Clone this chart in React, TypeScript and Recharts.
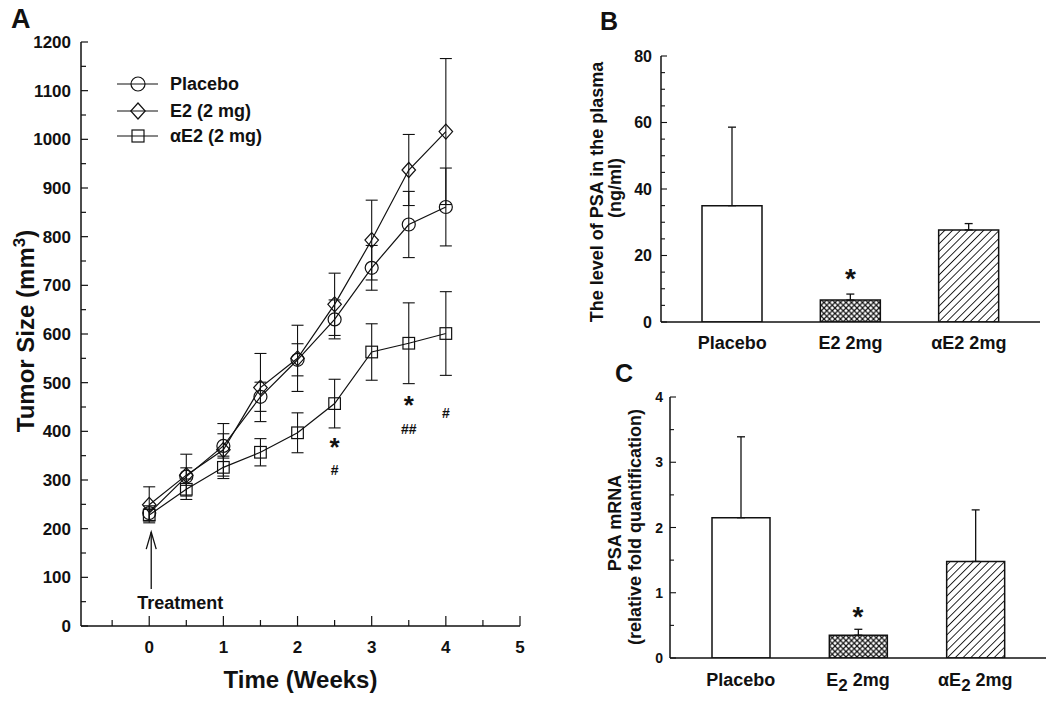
import React from 'react';
import {
  ComposedChart,
  Line,
  XAxis,
  YAxis,
  ErrorBar,
  ReferenceDot,
  Legend,
  BarChart,
  Bar,
  Cell,
  Label,
} from 'recharts';

const FONT = '"Liberation Sans", Arial, Helvetica, sans-serif';
const INK = '#111';

// ---------- Panel A data ----------
const weeks = [0, 0.5, 1, 1.5, 2, 2.5, 3, 3.5, 4];
const placebo = [232, 307, 370, 471, 547, 630, 736, 825, 861];
const placeboErr = [15, 18, 25, 30, 33, 40, 46, 68, 80];
const e2 = [249, 310, 362, 490, 550, 661, 793, 937, 1016];
const e2Err = [37, 43, 54, 70, 68, 64, 82, 73, 150];
const ae2 = [228, 281, 326, 357, 397, 457, 563, 581, 601];
const ae2Err = [12, 21, 23, 28, 41, 50, 58, 83, 86];

const yTicksA = [0, 50, 100, 150, 200, 250, 300, 350, 400, 450, 500, 550, 600, 650, 700, 750, 800, 850, 900, 950, 1000, 1050, 1100, 1150, 1200];
const xTicksA = [-0.5, 0, 0.5, 1, 1.5, 2, 2.5, 3, 3.5, 4, 4.5, 5];

// significance marks: "*" above, "#" below
const starX = [2.5, 3.5];
const starY = [380, 466];
const hashX = [2.5, 3.5, 4];
const hashY = [321, 405, 437];
const hashText = ['#', '##', '#'];

const legendOrder = ['placebo', 'e2', 'ae2'];

// ---------- Panel B data ----------
const groups = ['Placebo', 'E2 2mg', 'αE2 2mg'];
const plasmaPSA = [35, 6.6, 27.7];
const plasmaPSAErr = [23.6, 1.8, 1.9];
const yTicksB = [0, 5, 10, 15, 20, 25, 30, 35, 40, 45, 50, 55, 60, 65, 70, 75, 80];

// ---------- Panel C data ----------
const mRNA = [2.15, 0.35, 1.48];
const mRNAErr = [1.24, 0.09, 0.79];
const yTicksC = [0, 0.5, 1, 1.5, 2, 2.5, 3, 3.5, 4];

const dataA = weeks.map((w, i) => ({
  week: w,
  placebo: placebo[i],
  placeboErr: placeboErr[i],
  e2: e2[i],
  e2Err: e2Err[i],
  ae2: ae2[i],
  ae2Err: ae2Err[i],
}));

const dataB = groups.map((g, i) => ({ group: g, value: plasmaPSA[i], err: [0, plasmaPSAErr[i]] }));
const dataC = groups.map((g, i) => ({ group: g, value: mRNA[i], err: [0, mRNAErr[i]] }));

const barFillsB = ['#fff', 'url(#crossB)', 'url(#diagB)'];
const barFillsC = ['#fff', 'url(#crossC)', 'url(#diagC)'];

const textStyle = { fontFamily: FONT, fontWeight: 700, fill: INK } as const;

// ---------- markers ----------
const CircleMark = ({ cx, cy, r = 6.5 }: any) => (
  <circle cx={cx} cy={cy} r={r} fill="none" stroke={INK} strokeWidth={1.2} />
);
const DiamondMark = ({ cx, cy, s = 7.5 }: any) => (
  <path
    d={`M${cx},${cy - s} L${cx + s * 0.9},${cy} L${cx},${cy + s} L${cx - s * 0.9},${cy} Z`}
    fill="none"
    stroke={INK}
    strokeWidth={1.2}
  />
);
const SquareMark = ({ cx, cy, s = 5.8 }: any) => (
  <rect x={cx - s} y={cy - s} width={2 * s} height={2 * s} fill="none" stroke={INK} strokeWidth={1.2} />
);

const dotCircle = (p: any) => (p.cx == null ? <g key={p.index} /> : <CircleMark key={p.index} cx={p.cx} cy={p.cy} />);
const dotDiamond = (p: any) => (p.cx == null ? <g key={p.index} /> : <DiamondMark key={p.index} cx={p.cx} cy={p.cy} />);
const dotSquare = (p: any) => (p.cx == null ? <g key={p.index} /> : <SquareMark key={p.index} cx={p.cx} cy={p.cy} />);

// ---------- ticks ----------
const LeftTickA = (props: any) => {
  const { x, y, payload } = props;
  const v = payload.value;
  const major = v % 100 === 0;
  return (
    <g>
      <line x1={x} x2={x + (major ? 7 : 5)} y1={y} y2={y} stroke={INK} strokeWidth={1.2} />
      {major && (
        <text x={x - 10} y={y} dy="0.36em" textAnchor="end" fontSize={17} {...textStyle}>
          {v}
        </text>
      )}
    </g>
  );
};
const RightTickA = (props: any) => {
  const { x, y, payload } = props;
  const major = payload.value % 100 === 0;
  return <line x1={x} x2={x - (major ? 7 : 5)} y1={y} y2={y} stroke={INK} strokeWidth={1.2} />;
};
const BottomTickA = (props: any) => {
  const { x, y, payload } = props;
  const v = payload.value;
  const major = Number.isInteger(v);
  return (
    <g>
      <line x1={x} x2={x} y1={y} y2={y - (major ? 10 : 6)} stroke={INK} strokeWidth={1.2} />
      {major && (
        <text x={x} y={y + 21} dy="0.36em" textAnchor="middle" fontSize={17} {...textStyle}>
          {v}
        </text>
      )}
    </g>
  );
};

const makeLeftBarTick = (majorStep: number, fontSize: number, gap: number) => (props: any) => {
  const { x, y, payload } = props;
  const v = payload.value;
  const major = Math.abs(v / majorStep - Math.round(v / majorStep)) < 1e-6;
  return (
    <g>
      <line x1={x} x2={x + (major ? 6 : 4)} y1={y} y2={y} stroke={INK} strokeWidth={1.1} />
      {major && (
        <text x={x - gap} y={y} dy="0.36em" textAnchor="end" fontSize={fontSize} {...textStyle}>
          {v}
        </text>
      )}
    </g>
  );
};
const LeftTickB = makeLeftBarTick(20, 16, 9);
const LeftTickC = makeLeftBarTick(1, 14, 7);

const BottomTickB = (props: any) => {
  const { x, y, payload } = props;
  return (
    <text x={x} y={y + 21} dy="0.36em" textAnchor="middle" fontSize={18} {...textStyle}>
      {payload.value}
    </text>
  );
};
const BottomTickC = (props: any) => {
  const { x, y, payload } = props;
  const v: string = payload.value;
  const idx = v.indexOf('E2');
  if (idx < 0) {
    return (
      <text x={x} y={y + 22} dy="0.36em" textAnchor="middle" fontSize={18} {...textStyle}>
        {v}
      </text>
    );
  }
  return (
    <text x={x} y={y + 22} dy="0.36em" textAnchor="middle" fontSize={18} {...textStyle}>
      <tspan>{v.slice(0, idx + 1)}</tspan>
      <tspan dy={5} fontSize={17}>2</tspan>
      <tspan dy={-5}>{v.slice(idx + 2)}</tspan>
    </text>
  );
};

// ---------- legend ----------
const legendMarks: Record<string, (cx: number, cy: number) => React.ReactNode> = {
  placebo: (cx, cy) => <CircleMark cx={cx} cy={cy} r={7} />,
  e2: (cx, cy) => <DiamondMark cx={cx} cy={cy} s={8} />,
  ae2: (cx, cy) => <SquareMark cx={cx} cy={cy} s={6} />,
};
const renderLegendA = (props: any) => {
  const payload = (props.payload || [])
    .filter((p: any) => legendMarks[p.dataKey])
    .sort((a: any, b: any) => legendOrder.indexOf(a.dataKey) - legendOrder.indexOf(b.dataKey));
  return (
    <svg width={220} height={80} style={{ overflow: 'visible' }}>
      {payload.map((p: any, i: number) => {
        const cy = [14, 41, 66][i] ?? 14 + i * 26;
        return (
          <g key={p.dataKey}>
            <line x1={7} x2={48} y1={cy} y2={cy} stroke={INK} strokeWidth={1.2} />
            {legendMarks[p.dataKey](28, cy)}
            <text x={60} y={cy} dy="0.36em" fontSize={18} {...textStyle}>
              {p.value}
            </text>
          </g>
        );
      })}
    </svg>
  );
};

// ---------- annotation shapes ----------
const STAR_FS = 26;
const HASH_FS = 14;
const starShape = (p: any) => (
  <text x={p.cx} y={p.cy} dy={STAR_FS * 0.58} textAnchor="middle" fontSize={STAR_FS} {...textStyle}>
    *
  </text>
);
const hashShape = (t: string) => (p: any) => (
  <text x={p.cx} y={p.cy} dy={HASH_FS * 0.36} textAnchor="middle" fontSize={HASH_FS} {...textStyle}>
    {t}
  </text>
);
const bigStarShape = (p: any) => (
  <text x={p.cx} y={p.cy} dy={28 * 0.58} textAnchor="middle" fontSize={28} {...textStyle}>
    *
  </text>
);

const treatmentShape = (p: any) => {
  const { cx, cy } = p;
  return (
    <g>
      <line x1={cx + 2} x2={cx + 2} y1={cy} y2={cy + 57} stroke={INK} strokeWidth={1.3} />
      <path d={`M${cx - 3},${cy + 17} L${cx + 2},${cy} L${cx + 7},${cy + 17}`} fill="none" stroke={INK} strokeWidth={1.3} />
      <text x={cx - 12} y={cy + 70} dy="0.36em" fontSize={18} {...textStyle}>
        Treatment
      </text>
    </g>
  );
};

// ---------- Panel A ----------
const PanelA = () => (
  <ComposedChart width={560} height={702} data={dataA} margin={{ top: 42, right: 40, bottom: 46, left: 11 }}>
    <XAxis
      dataKey="week"
      type="number"
      domain={[-0.92, 5]}
      allowDataOverflow
      ticks={xTicksA}
      interval={0}
      height={30}
      tickSize={0}
      tickMargin={0}
      tickLine={false}
      axisLine={{ stroke: INK, strokeWidth: 1.5 }}
      tick={BottomTickA}
    >
      <Label
        content={(p: any) => {
          const vb = p.viewBox || { x: 81, width: 439 };
          return (
            <text x={vb.x + vb.width / 2} y={679} dy="0.36em" textAnchor="middle" fontSize={24} {...textStyle}>
              Time (Weeks)
            </text>
          );
        }}
      />
    </XAxis>
    <XAxis
      xAxisId="t"
      orientation="top"
      type="number"
      domain={[-0.92, 5]}
      allowDataOverflow
      height={0}
      tick={false}
      tickLine={false}
      axisLine={{ stroke: INK, strokeWidth: 1.5 }}
    />
    <YAxis
      type="number"
      domain={[0, 1200]}
      allowDataOverflow
      ticks={yTicksA}
      interval={0}
      width={70}
      tickSize={0}
      tickMargin={0}
      tickLine={false}
      axisLine={{ stroke: INK, strokeWidth: 1.5 }}
      tick={LeftTickA}
    >
      <Label
        content={() => (
          <g>
            <text x={11} y={28} fontSize={27} {...textStyle}>
              A
            </text>
            <text
              transform="translate(25,331) rotate(-90)"
              textAnchor="middle"
              dy="0.36em"
              fontSize={24}
              {...textStyle}
            >
              Tumor Size (mm
              <tspan dy={-9} fontSize={17}>
                3
              </tspan>
              <tspan dy={9}>)</tspan>
            </text>
          </g>
        )}
      />
    </YAxis>
    <YAxis
      yAxisId="r"
      orientation="right"
      type="number"
      domain={[0, 1200]}
      allowDataOverflow
      ticks={yTicksA}
      interval={0}
      width={0}
      tickSize={0}
      tickMargin={0}
      tickLine={false}
      axisLine={{ stroke: INK, strokeWidth: 1.5 }}
      tick={RightTickA}
    />
    <Legend
      layout="vertical"
      align="center"
      verticalAlign="middle"
      wrapperStyle={{ left: 110, top: 70, width: 220, height: 80 }}
      content={renderLegendA}
    />
    <Line dataKey="placebo" name="Placebo" stroke={INK} strokeWidth={1.2} dot={dotCircle} activeDot={false} isAnimationActive={false}>
      <ErrorBar dataKey="placeboErr" direction="y" width={6} stroke={INK} strokeWidth={1.1} />
    </Line>
    <Line dataKey="e2" name="E2 (2 mg)" stroke={INK} strokeWidth={1.2} dot={dotDiamond} activeDot={false} isAnimationActive={false}>
      <ErrorBar dataKey="e2Err" direction="y" width={6} stroke={INK} strokeWidth={1.1} />
    </Line>
    <Line dataKey="ae2" name="αE2 (2 mg)" stroke={INK} strokeWidth={1.2} dot={dotSquare} activeDot={false} isAnimationActive={false}>
      <ErrorBar dataKey="ae2Err" direction="y" width={6} stroke={INK} strokeWidth={1.1} />
    </Line>
    {starX.map((sx, i) => (
      <ReferenceDot key={`st${i}`} x={sx} y={starY[i]} r={0} ifOverflow="visible" shape={starShape} />
    ))}
    {hashX.map((hx, i) => (
      <ReferenceDot key={`hs${i}`} x={hx} y={hashY[i]} r={0} ifOverflow="visible" shape={hashShape(hashText[i])} />
    ))}
    <ReferenceDot x={0} y={193} r={0} ifOverflow="visible" shape={treatmentShape} />
  </ComposedChart>
);

// ---------- patterns ----------
const Patterns = ({ suffix }: { suffix: string }) => (
  <defs>
    <pattern id={`cross${suffix}`} width={5.5} height={5.5} patternUnits="userSpaceOnUse">
      <rect width={5.5} height={5.5} fill="#fff" />
      <path d="M0,0 L5.5,5.5 M5.5,0 L0,5.5" stroke={INK} strokeWidth={1.2} />
    </pattern>
    <pattern id={`diag${suffix}`} width={5.5} height={5.5} patternUnits="userSpaceOnUse" patternTransform="rotate(45)">
      <rect width={5.5} height={5.5} fill="#fff" />
      <line x1={0} y1={0} x2={0} y2={5.5} stroke={INK} strokeWidth={1.8} />
    </pattern>
  </defs>
);

// ---------- Panel B ----------
const PanelB = () => (
  <BarChart width={490} height={360} data={dataB} margin={{ top: 56, right: 10, bottom: 8, left: 41 }}>
    <Patterns suffix="B" />
    <XAxis
      dataKey="group"
      padding={{ left: 12, right: 12 }}
      height={30}
      tickSize={0}
      tickMargin={0}
      tickLine={false}
      interval={0}
      axisLine={{ stroke: INK, strokeWidth: 1.5 }}
      tick={BottomTickB}
    />
    <XAxis xAxisId="t" orientation="top" dataKey="group" height={0} tick={false} tickLine={false} axisLine={{ stroke: INK, strokeWidth: 1.5 }} />
    <YAxis
      type="number"
      domain={[0, 80]}
      allowDataOverflow
      ticks={yTicksB}
      interval={0}
      width={60}
      tickSize={0}
      tickMargin={0}
      tickLine={false}
      axisLine={{ stroke: INK, strokeWidth: 1.5 }}
      tick={LeftTickB}
    >
      <Label
        content={() => (
          <g>
            <text x={40} y={30} fontSize={25} {...textStyle}>
              B
            </text>
            <text transform="translate(37,192) rotate(-90)" textAnchor="middle" dy="0.36em" fontSize={18} {...textStyle}>
              The level of PSA in the plasma
            </text>
            <text transform="translate(55,188) rotate(-90)" textAnchor="middle" dy="0.36em" fontSize={18} {...textStyle}>
              (ng/ml)
            </text>
          </g>
        )}
      />
    </YAxis>
    <YAxis yAxisId="r" orientation="right" domain={[0, 80]} width={0} tick={false} tickLine={false} axisLine={{ stroke: INK, strokeWidth: 1.5 }} />
    <Bar dataKey="value" barSize={60} stroke={INK} strokeWidth={1.5} isAnimationActive={false}>
      {groups.map((g, i) => (
        <Cell key={g} fill={barFillsB[i]} />
      ))}
      <ErrorBar dataKey="err" direction="y" width={4} stroke={INK} strokeWidth={1.3} />
    </Bar>
    <ReferenceDot x={groups[1]} y={15} r={0} ifOverflow="visible" shape={bigStarShape} />
  </BarChart>
);

// ---------- Panel C ----------
const PanelC = () => (
  <BarChart width={490} height={342} data={dataC} margin={{ top: 37, right: 4, bottom: 14, left: 50 }}>
    <Patterns suffix="C" />
    <XAxis
      dataKey="group"
      padding={{ left: 12, right: 12 }}
      height={30}
      tickSize={0}
      tickMargin={0}
      tickLine={false}
      interval={0}
      axisLine={{ stroke: INK, strokeWidth: 1.5 }}
      tick={BottomTickC}
    />
    <XAxis xAxisId="t" orientation="top" dataKey="group" height={0} tick={false} tickLine={false} axisLine={{ stroke: INK, strokeWidth: 1.5 }} />
    <YAxis
      type="number"
      domain={[0, 4]}
      allowDataOverflow
      ticks={yTicksC}
      interval={0}
      width={60}
      tickSize={0}
      tickMargin={0}
      tickLine={false}
      axisLine={{ stroke: INK, strokeWidth: 1.5 }}
      tick={LeftTickC}
    >
      <Label
        content={() => (
          <g>
            <text x={55} y={22} fontSize={25} {...textStyle}>
              C
            </text>
            <text transform="translate(55,163) rotate(-90)" textAnchor="middle" dy="0.36em" fontSize={18} {...textStyle}>
              PSA mRNA
            </text>
            <text transform="translate(75,167) rotate(-90)" textAnchor="middle" dy="0.36em" fontSize={18} {...textStyle}>
              (relative fold quantification)
            </text>
          </g>
        )}
      />
    </YAxis>
    <YAxis yAxisId="r" orientation="right" domain={[0, 4]} width={0} tick={false} tickLine={false} axisLine={{ stroke: INK, strokeWidth: 1.5 }} />
    <Bar dataKey="value" barSize={58} stroke={INK} strokeWidth={1.5} isAnimationActive={false}>
      {groups.map((g, i) => (
        <Cell key={g} fill={barFillsC[i]} />
      ))}
      <ErrorBar dataKey="err" direction="y" width={4} stroke={INK} strokeWidth={1.3} />
    </Bar>
    <ReferenceDot x={groups[1]} y={0.74} r={0} ifOverflow="visible" shape={bigStarShape} />
  </BarChart>
);

export default function App() {
  return (
    <div style={{ position: 'absolute', left: 0, top: 0, width: 1050, height: 702, background: '#fff', overflow: 'hidden' }}>
      <div style={{ position: 'absolute', left: 0, top: 0 }}>
        <PanelA />
      </div>
      <div style={{ position: 'absolute', left: 560, top: 0 }}>
        <PanelB />
      </div>
      <div style={{ position: 'absolute', left: 560, top: 360 }}>
        <PanelC />
      </div>
    </div>
  );
}
